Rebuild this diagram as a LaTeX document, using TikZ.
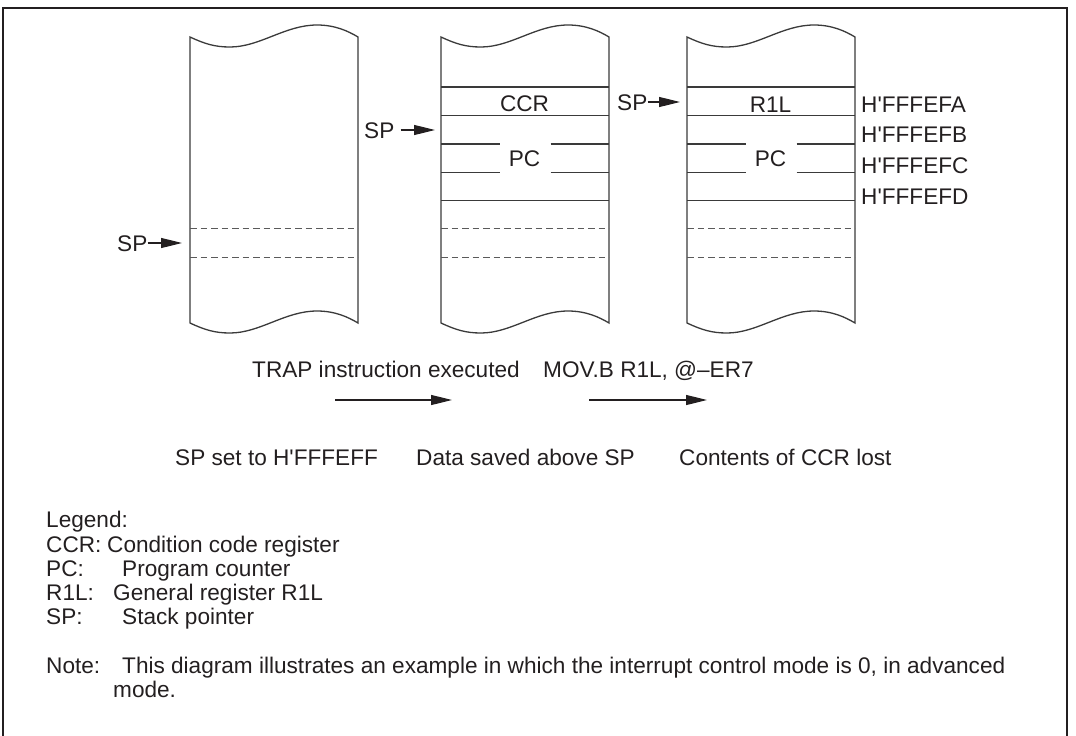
\documentclass[tikz,border=0pt]{standalone}
\usepackage{fontspec}
\setmainfont{Liberation Sans}
\usetikzlibrary{arrows.meta}
\definecolor{ink}{HTML}{231F20}
\definecolor{rule}{HTML}{3A3A3A}
\definecolor{dashc}{HTML}{5A5A5A}
\newcommand{\apo}{\textquotesingle}
\tikzset{
  lbl/.style={font=\fontsize{22.6pt}{27pt}\selectfont, text=ink, inner sep=0pt, text height=16pt, text depth=0pt},
  blockline/.style={draw=rule, line width=1.3pt},
  rowline/.style={draw=rule, line width=1.1pt},
  dashline/.style={draw=dashc, line width=1pt, dash pattern=on 6.5pt off 4pt},
  sparrow/.style={draw=ink, line width=1.2pt, -{Triangle[length=21pt,width=10pt]}},
  memblock/.pic={
    \draw[blockline] (0,37) .. controls (15,44) and (25,47) .. (40,47)
      .. controls (70,47) and (95,25) .. (127,25)
      .. controls (145,25) and (158,31) .. (168,37) -- (168,323)
      .. controls (158,317) and (145,311) .. (127,311)
      .. controls (95,311) and (70,333) .. (40,333)
      .. controls (25,333) and (15,330) .. (0,323) -- cycle;
    \draw[dashline] (0,228.7) -- (168,228.7) (0,257) -- (168,257);
  },
  rows/.pic={
    \draw[rowline] (0,87) -- (168,87) (0,115.7) -- (168,115.7) (0,200.3) -- (168,200.3);
    \draw[rowline] (0,144) -- (58.5,144) (109.5,144) -- (168,144);
    \draw[rowline] (0,172.3) -- (58.5,172.3) (109.5,172.3) -- (168,172.3);
  }
}
\begin{document}
\begin{tikzpicture}[x=1pt,y=-1pt]
\useasboundingbox (0,0) rectangle (1076,736);
\clip (0,0) rectangle (1076,736);
\draw[draw=ink, line width=2.6pt] (3,800) -- (3,8) -- (1067,8) -- (1067,800);

% memory blocks
\pic at (190,0) {memblock};
\pic at (441,0) {memblock};
\pic at (441,0) {rows};
\pic at (687,0) {memblock};
\pic at (687,0) {rows};

% register labels inside blocks
\node[lbl] (ccr) at (524.5,103) {CCR};
\node[lbl] (pc2) at (524.5,158) {PC};
\node[lbl] (r1l) at (770.5,104) {R1L};
\node[lbl] (pc3) at (770.5,158) {PC};

% addresses
\node[lbl, anchor=west] (fa) at (861,104) {H\apo FFFEFA};
\node[lbl, anchor=west] (fb) at (861,134) {H\apo FFFEFB};
\node[lbl, anchor=west] (fc) at (861,165) {H\apo FFFEFC};
\node[lbl, anchor=west] (fd) at (861,196) {H\apo FFFEFD};

% stack pointers
\coordinate (b1sp) at (182,243);
\coordinate (b2sp) at (435,130);
\coordinate (b3sp) at (680,102);
\node[lbl, anchor=west] (sp1) at (117,243) {SP};
\node[lbl, anchor=west] (sp2) at (364,130) {SP};
\node[lbl, anchor=west] (sp3) at (617,102) {SP};
\draw[sparrow] (sp1.east) -- (b1sp);
\draw[sparrow, shorten <=6pt] (sp2.east) -- (b2sp);
\draw[sparrow] (sp3.east) -- (b3sp);

% transitions
\node[lbl, anchor=west] (trap) at (252,369) {TRAP instruction executed};
\node[lbl, anchor=west] (mov) at (543,369) {MOV.B R1L, @–ER7};
\coordinate (t1s) at (335,400);
\coordinate (t1e) at (452,400);
\coordinate (t2s) at (589,400);
\coordinate (t2e) at (707,400);
\draw[sparrow] (t1s) -- (t1e);
\draw[sparrow] (t2s) -- (t2e);

\node[lbl, anchor=west] (st1) at (175,457) {SP set to H\apo FFFEFF};
\node[lbl, anchor=west] (st2) at (416,457) {Data saved above SP};
\node[lbl, anchor=west] (st3) at (679,457) {Contents of CCR lost};

% legend
\node[lbl, anchor=west] (lg) at (46,519) {Legend:};
\node[lbl, anchor=west] (lg1) at (46,544) {CCR:};
\node[lbl, anchor=west] (lg1t) at (107,544) {Condition code register};
\node[lbl, anchor=west] (lg2) at (46,568) {PC:};
\node[lbl, anchor=west] (lg2t) at (122,568) {Program counter};
\node[lbl, anchor=west] (lg3) at (46,592) {R1L:};
\node[lbl, anchor=west] (lg3t) at (113,592) {General register R1L};
\node[lbl, anchor=west] (lg4) at (46,616) {SP:};
\node[lbl, anchor=west] (lg4t) at (122,616) {Stack pointer};
\node[lbl, anchor=west] (nt) at (46,665) {Note:};
\node[lbl, anchor=west] (ntt) at (122,665) {This diagram illustrates an example in which the interrupt control mode is 0, in advanced};
\node[lbl, anchor=west] (ntt2) at (113,689) {mode.};
\end{tikzpicture}
\end{document}
